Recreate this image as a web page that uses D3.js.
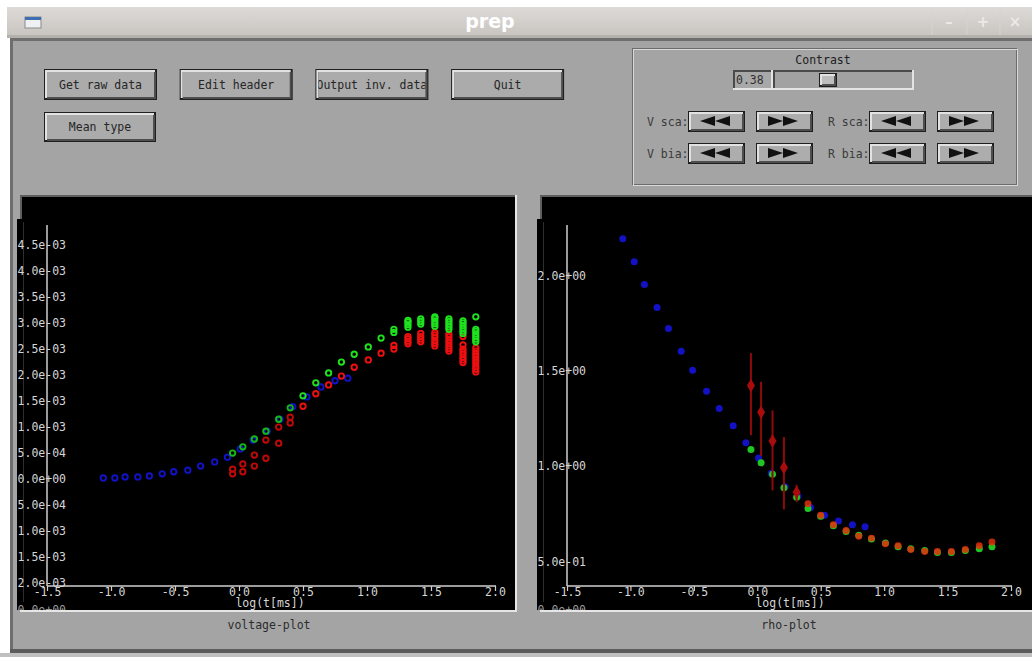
<!DOCTYPE html>
<html>
<head>
<meta charset="utf-8">
<script src="https://cdn.jsdelivr.net/npm/d3@7"></script>
<style>
  body { margin: 0; background: #fff; overflow: hidden; }
  text { font-family: "DejaVu Sans Mono", monospace; }
</style>
</head>
<body>
<svg id="chart" width="1032" height="657"></svg>
<script>
// time gates, log10(t[ms])
const blueT = [-1.06, -0.97, -0.89, -0.79, -0.70, -0.60, -0.51, -0.40, -0.30, -0.19,
               -0.09, 0.01, 0.11, 0.22, 0.32, 0.42, 0.53, 0.64, 0.75, 0.85];
const gateT = [-0.05, 0.03, 0.12, 0.21, 0.31, 0.40, 0.50, 0.60, 0.70, 0.80,
               0.90, 1.01, 1.11, 1.21, 1.32, 1.42, 1.53, 1.64, 1.75, 1.85];

// voltage-plot, values in units of 1e-3
const blueV = [0.00, 0.00, 0.02, 0.02, 0.04, 0.08, 0.12, 0.15, 0.23, 0.31,
               0.40, 0.56, 0.73, 0.90, 1.13, 1.37, 1.56, 1.75, 1.87, 1.92];
const greenV = [[0.48], [0.60], [0.75], [0.90], [1.13], [1.35], [1.58], [1.83], [2.02], [2.23],
                [2.38], [2.52], [2.69], [2.80, 2.86], [2.90, 2.95, 3.00, 3.03], [2.96, 3.01, 3.06],
                [2.92, 2.97, 3.02, 3.07, 3.10], [2.86, 2.91, 2.96, 3.01, 3.06],
                [2.78, 2.83, 2.88, 2.93, 2.98, 3.02], [2.62, 2.67, 2.72, 2.77, 2.82, 2.86, 3.10]];
const redV = [[0.08, 0.17], [0.12, 0.27], [0.23, 0.44], [0.38, 0.73], [0.67, 0.98], [1.06, 1.17],
              [1.38], [1.62], [1.79], [1.96], [2.13], [2.27], [2.40], [2.48, 2.55],
              [2.58, 2.63, 2.68, 2.72], [2.62, 2.67, 2.72, 2.78], [2.54, 2.59, 2.64, 2.70, 2.75, 2.80],
              [2.44, 2.49, 2.54, 2.60, 2.66, 2.72, 2.77], [2.22, 2.27, 2.32, 2.38, 2.43, 2.48, 2.56, 2.72],
              [2.04, 2.09, 2.14, 2.20, 2.26, 2.32, 2.38, 2.44, 2.50]];

// rho-plot
const blueRho = [2.19, 2.07, 1.95, 1.83, 1.72, 1.60, 1.50, 1.39, 1.30, 1.21,
                 1.12, 1.04, 0.96, 0.89, 0.84, 0.78, 0.74, 0.71, 0.69, 0.68];
const greenRho = [1.09, 1.02, 0.96, 0.89, 0.84, 0.78, 0.74, 0.69, 0.66, 0.64,
                  0.62, 0.60, 0.58, 0.57, 0.56, 0.55, 0.55, 0.56, 0.57, 0.58];
const redRho = [1.42, 1.28, 1.13, 0.99, 0.86, 0.80, 0.74, 0.69, 0.66, 0.63,
                0.62, 0.59, 0.58, 0.56, 0.55, 0.55, 0.55, 0.56, 0.58, 0.60];
const redHi = [1.59, 1.44, 1.29, 1.15, 0.90];
const redLo = [1.16, 1.05, 0.87, 0.77, 0.81];

// ticks
const xTicks = [-1.5, -1.0, -0.5, 0.0, 0.5, 1.0, 1.5, 2.0];
const vTicks = [-2.0, -1.5, -1.0, -0.5, 0.0, 0.5, 1.0, 1.5, 2.0, 2.5, 3.0, 3.5, 4.0, 4.5];
const rhoTicks = [0.5, 1.0, 1.5, 2.0];

const buttons = ["Get raw data", "Edit header", "Output inv. data", "Quit"];

const svg = d3.select("#chart");
const defs = svg.append("defs");

function fmtE(v) {
    const s = v.toExponential(1).split("e");
    return s[0] + "e" + s[1][0] + s[1].slice(1).padStart(2, "0");
}

/* ---------- window chrome ---------- */
const tb = defs.append("linearGradient").attr("id", "tb").attr("x1", 0).attr("y1", 0).attr("x2", 0).attr("y2", 1);
tb.append("stop").attr("offset", 0).attr("stop-color", "#dedad7");
tb.append("stop").attr("offset", 1).attr("stop-color", "#c7c3bf");

svg.append("rect").attr("width", 1032).attr("height", 657).attr("fill", "#fff");
svg.append("rect").attr("x", 7).attr("y", 7).attr("width", 1025).attr("height", 30).attr("fill", "url(#tb)");
svg.append("rect").attr("x", 7).attr("y", 35).attr("width", 1025).attr("height", 3).attr("fill", "#b4b0ac");

// window icon
svg.append("rect").attr("x", 25).attr("y", 17).attr("width", 16).attr("height", 11)
   .attr("fill", "#eef0f4").attr("stroke", "#8a8a8a").attr("stroke-width", 1);
svg.append("rect").attr("x", 25).attr("y", 17).attr("width", 16).attr("height", 3).attr("fill", "#3d6eb4");

svg.append("text").attr("x", 490).attr("y", 28).attr("text-anchor", "middle")
   .style("font-family", "'DejaVu Sans', sans-serif").style("font-weight", "bold")
   .style("font-size", "19px").attr("fill", "#fff").text("prep");

[932, 967, 1000].forEach(x => svg.append("line").attr("x1", x).attr("x2", x).attr("y1", 10).attr("y2", 35)
   .attr("stroke", "#d6d2ce").attr("stroke-width", 1));
[["\u2013", 949], ["+", 983], ["\u00d7", 1015]].forEach(d => svg.append("text")
   .attr("x", d[1]).attr("y", 27).attr("text-anchor", "middle")
   .style("font-family", "'DejaVu Sans', sans-serif").style("font-size", "15px").style("font-weight", "bold")
   .attr("fill", "#ece9e6").text(d[0]));

// body
svg.append("rect").attr("x", 10).attr("y", 38).attr("width", 1022).attr("height", 614).attr("fill", "#a4a4a4");
svg.append("rect").attr("x", 10).attr("y", 38).attr("width", 1022).attr("height", 3).attr("fill", "#6e6e6e");
svg.append("rect").attr("x", 10).attr("y", 38).attr("width", 3).attr("height", 614).attr("fill", "#6e6e6e");
svg.append("rect").attr("x", 10).attr("y", 649).attr("width", 1022).attr("height", 4).attr("fill", "#5c5c5c");
svg.append("rect").attr("x", 0).attr("y", 653).attr("width", 1032).attr("height", 4).attr("fill", "#c0c0c0");

/* ---------- widgets ---------- */
function raised(g, x, y, w, h, face) {
    g.append("rect").attr("x", x).attr("y", y).attr("width", w).attr("height", h).attr("fill", "#1e1e1e");
    g.append("rect").attr("x", x + 1).attr("y", y + 1).attr("width", w - 3).attr("height", h - 3).attr("fill", "#e2e2e2");
    g.append("rect").attr("x", x + 3).attr("y", y + 3).attr("width", w - 4).attr("height", h - 4).attr("fill", "#4e4e4e");
    g.append("rect").attr("x", x + 3).attr("y", y + 3).attr("width", w - 6).attr("height", h - 6).attr("fill", face || "#ababab");
}
function sunken(g, x, y, w, h, face) {
    g.append("rect").attr("x", x).attr("y", y).attr("width", w).attr("height", h).attr("fill", "#e4e4e4");
    g.append("rect").attr("x", x).attr("y", y).attr("width", w - 2).attr("height", h - 2).attr("fill", "#4a4a4a");
    g.append("rect").attr("x", x + 2).attr("y", y + 2).attr("width", w - 4).attr("height", h - 4).attr("fill", face || "#a6a6a6");
}
function button(x, y, w, h, label) {
    const g = svg.append("g");
    const id = "clip" + Math.round(x) + "_" + Math.round(y);
    defs.append("clipPath").attr("id", id).append("rect")
        .attr("x", x + 3).attr("y", y + 3).attr("width", w - 6).attr("height", h - 6);
    raised(g, x, y, w, h);
    g.append("text").attr("x", x + w / 2).attr("y", y + h / 2 + 4).attr("text-anchor", "middle")
     .attr("clip-path", "url(#" + id + ")")
     .style("font-size", "11.5px").attr("fill", "#262626").text(label);
}
buttons.forEach((b, i) => button(44 + i * 135.7, 69, 113, 31, b));
button(44, 112, 112, 30, "Mean type");

// contrast panel
const cp = svg.append("g");
cp.append("rect").attr("x", 632.5).attr("y", 48.5).attr("width", 384).attr("height", 136)
  .attr("fill", "none").attr("stroke", "#6c6c6c");
cp.append("rect").attr("x", 633.5).attr("y", 49.5).attr("width", 384).attr("height", 136)
  .attr("fill", "none").attr("stroke", "#d8d8d8");
cp.append("text").attr("x", 823).attr("y", 64).attr("text-anchor", "middle")
  .style("font-size", "11.5px").attr("fill", "#202020").text("Contrast");
sunken(cp, 733, 70, 40, 20, "#a8a8a8");
cp.append("text").attr("x", 736).attr("y", 84).style("font-size", "11.5px").attr("fill", "#303030").text("0.38");
sunken(cp, 773, 70, 141, 20, "#a2a2a2");
raised(cp, 819, 73, 18, 14, "#bdbdbd");

function arrowBtn(x, y, dir) {
    const g = svg.append("g");
    raised(g, x, y, 57, 21, "#adadad");
    const cx = x + 27, cy = y + 10;
    const tri = (x0, x1) => `M${x0},${cy}L${x1},${cy - 5}L${x1},${cy + 5}Z`;
    if (dir < 0) {
        g.append("path").attr("d", tri(cx - 15, cx)).attr("fill", "#111");
        g.append("path").attr("d", tri(cx, cx + 15)).attr("fill", "#111");
    } else {
        g.append("path").attr("d", tri(cx + 15, cx)).attr("fill", "#111");
        g.append("path").attr("d", tri(cx, cx - 15)).attr("fill", "#111");
    }
}
[["V sca:", 647, 111], ["V bia:", 647, 143], ["R sca:", 828, 111], ["R bia:", 828, 143]].forEach(d => {
    svg.append("text").attr("x", d[1]).attr("y", d[2] + 15).style("font-size", "11.5px")
       .attr("fill", "#3a3a3a").text(d[0]);
    arrowBtn(d[1] + 41, d[2], -1);
    arrowBtn(d[1] + 109, d[2], 1);
});

/* ---------- plot panels ---------- */
function panel(x0, y0, x1, y1, name) {
    svg.append("rect").attr("x", x0 - 2).attr("y", y0 - 2).attr("width", x1 - x0 + 4).attr("height", y1 - y0 + 4).attr("fill", "#e6e6e6");
    svg.append("rect").attr("x", x0 - 2).attr("y", y0 - 2).attr("width", x1 - x0 + 2).attr("height", y1 - y0 + 2).attr("fill", "#5e5e5e");
    svg.append("rect").attr("x", x0).attr("y", y0).attr("width", x1 - x0).attr("height", y1 - y0).attr("fill", "#000");
    svg.append("rect").attr("x", x0 - 5).attr("y", y0 + 22).attr("width", 5).attr("height", y1 - y0 - 22).attr("fill", "#000");
    defs.append("clipPath").attr("id", name).append("rect")
        .attr("x", x0 - 5).attr("y", y0).attr("width", x1 - x0 + 5).attr("height", y1 - y0);
    const g = svg.append("g").attr("clip-path", "url(#" + name + ")");
    g.append("line").attr("x1", x0 + 1.5).attr("x2", x0 + 1.5).attr("y1", y0 + 25).attr("y2", y1 - 8)
     .attr("stroke", "#2e2e2e").attr("stroke-width", 1);
    return g;
}

function drawAxes(g, x, y, yTicks, yFmt, axisX, axisTop, xLabelX) {
    const axisY = 586;
    g.append("line").attr("x1", axisX).attr("x2", axisX).attr("y1", axisTop).attr("y2", axisY)
     .attr("stroke", "#cfcfcf").attr("stroke-width", 1.5);
    g.append("line").attr("x1", axisX).attr("x2", x.range()[1] + 1).attr("y1", axisY).attr("y2", axisY)
     .attr("stroke", "#cfcfcf").attr("stroke-width", 1.5);

    const ya = g.append("g").attr("transform", `translate(${axisX},0)`)
        .call(d3.axisLeft(y).tickValues(yTicks).tickSize(0).tickFormat(yFmt));
    ya.select(".domain").remove();
    ya.selectAll("text").attr("x", 19).attr("dy", "0.36em")
      .style("font-family", "'DejaVu Sans Mono', monospace").style("font-size", "11.5px").attr("fill", "#d6d6d6");

    const xa = g.append("g").attr("transform", `translate(0,${axisY})`)
        .call(d3.axisBottom(x).tickValues(xTicks).tickSize(5).tickFormat(v => v.toFixed(1)));
    xa.select(".domain").remove();
    xa.selectAll("line").attr("stroke", "#cfcfcf").attr("stroke-width", 1.2);
    xa.selectAll("text").attr("y", 2).attr("dy", "0.71em")
      .style("font-family", "'DejaVu Sans Mono', monospace").style("font-size", "11.5px").attr("fill", "#d6d6d6");

    g.append("text").attr("x", xLabelX).attr("y", 607).attr("text-anchor", "middle")
     .style("font-size", "11.5px").attr("fill", "#d6d6d6").text("log(t[ms])");
    g.append("text").attr("x", axisX + 19).attr("y", 614).attr("text-anchor", "end")
     .style("font-size", "11.5px").attr("fill", "#9c9c9c").text("0.0e+00");
}

// voltage-plot
const gL = panel(22, 197, 515, 610, "clipL");
const xL = d3.scaleLinear().domain([-1.5, 2.0]).range([47, 495]);
const yL = d3.scaleLinear().domain([-2.0, 4.5]).range([582, 244]);
drawAxes(gL, xL, yL, vTicks, v => fmtE(v * 1e-3), 47, 225, 270);

gL.append("g").selectAll("circle").data(blueT.map((t, i) => [t, blueV[i]])).join("circle")
  .attr("cx", d => xL(d[0])).attr("cy", d => yL(d[1])).attr("r", 2.7)
  .attr("fill", "none").attr("stroke", "#1212c8").attr("stroke-width", 1.9);
gL.append("g").selectAll("circle").data(redV.flatMap((a, i) => a.map(v => [gateT[i], v]))).join("circle")
  .attr("cx", d => xL(d[0])).attr("cy", d => yL(d[1])).attr("r", 2.7)
  .attr("fill", "none").attr("stroke", d => d[0] < 0.5 ? "#c00808" : "#ee1010").attr("stroke-width", 1.9);
gL.append("g").selectAll("circle").data(greenV.flatMap((a, i) => a.map(v => [gateT[i], v]))).join("circle")
  .attr("cx", d => xL(d[0])).attr("cy", d => yL(d[1])).attr("r", 2.7)
  .attr("fill", "none").attr("stroke", d => d[0] < 0.5 ? "#14b814" : "#1ee21e").attr("stroke-width", 1.9);

svg.append("text").attr("x", 269).attr("y", 629).attr("text-anchor", "middle")
   .style("font-size", "11.5px").attr("fill", "#2c2c2c").text("voltage-plot");

// rho-plot
const gR = panel(542, 197, 1036, 610, "clipR");
const xR = d3.scaleLinear().domain([-1.5, 2.0]).range([567, 1011]);
const yR = d3.scaleLinear().domain([0.5, 2.0]).range([561, 275]);
drawAxes(gR, xR, yR, rhoTicks, fmtE, 567, 225, 790);

gR.append("g").selectAll("circle").data(blueT.map((t, i) => [t, blueRho[i]])).join("circle")
  .attr("cx", d => xR(d[0])).attr("cy", d => yR(d[1])).attr("r", 3.5).attr("fill", "#1212c4");
gR.append("g").selectAll("circle").data(gateT.map((t, i) => [t, greenRho[i]])).join("circle")
  .attr("cx", d => xR(d[0])).attr("cy", d => yR(d[1]) + 1).attr("r", 3.5).attr("fill", "#22c422");
gR.append("g").selectAll("line").data(redHi.map((h, i) => [gateT[i], redLo[i], h])).join("line")
  .attr("x1", d => xR(d[0])).attr("x2", d => xR(d[0]))
  .attr("y1", d => yR(d[1])).attr("y2", d => yR(d[2]))
  .attr("stroke", "#8e0a0a").attr("stroke-width", 2);
gR.append("g").selectAll("path").data(gateT.map((t, i) => [t, redRho[i], i < redHi.length]))
  .join("path")
  .attr("transform", d => `translate(${xR(d[0])},${yR(d[1])})`)
  .attr("d", d => d[2] ? d3.symbol(d3.symbolDiamond, 55)() : d3.symbol(d3.symbolCircle, 38)())
  .attr("fill", d => d[2] ? "#a80c0c" : "#e0300c").attr("fill-opacity", d => d[2] ? 1 : 0.85);

svg.append("text").attr("x", 789).attr("y", 629).attr("text-anchor", "middle")
   .style("font-size", "11.5px").attr("fill", "#2c2c2c").text("rho-plot");
</script>
</body>
</html>
